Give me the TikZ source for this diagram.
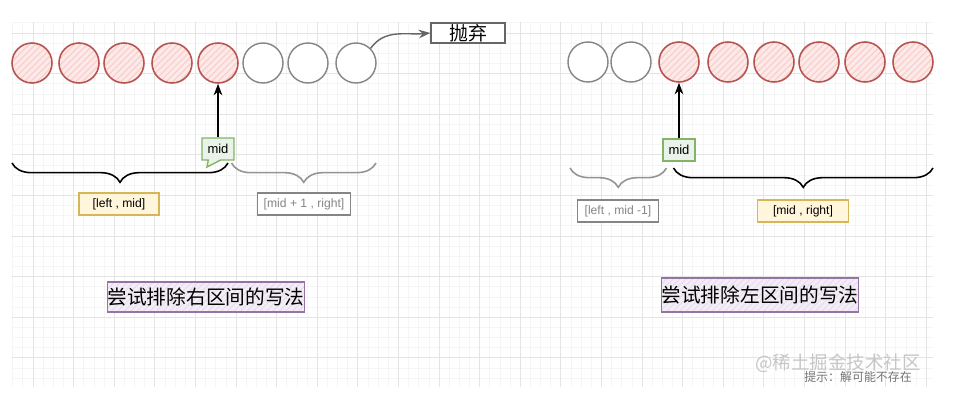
\documentclass[tikz,border=0pt]{standalone}
\usepackage{fontspec}
\setmainfont{Liberation Sans}
\newfontfamily\cjk{Noto Sans CJK SC}
\usetikzlibrary{arrows.meta, positioning, decorations.pathreplacing, shapes.callouts, patterns.meta}
\definecolor{dRed}{HTML}{B85450}
\definecolor{dRedFill}{HTML}{F8CECC}
\definecolor{dGray}{HTML}{666666}
\definecolor{dGreen}{HTML}{82B366}
\definecolor{dGreenFill}{HTML}{D5E8D4}
\definecolor{dYellow}{HTML}{D6B656}
\definecolor{dYellowFill}{HTML}{FFF2CC}
\definecolor{dPurple}{HTML}{9673A6}
\definecolor{dPurpleFill}{HTML}{E1D5E7}
\definecolor{gridMajor}{HTML}{E4E4E4}
\definecolor{gridMinor}{HTML}{F5F5F5}
\tikzset{
  redball/.style={circle, draw=dRed, line width=0.9pt, minimum size=0.8cm, inner sep=0,
    preaction={fill=dRedFill!45},
    pattern={Lines[angle=45, distance=2.6pt, line width=0.6pt]}, pattern color=dRedFill},
  grayball/.style={circle, draw=dGray!80, line width=0.8pt, minimum size=0.8cm, inner sep=0, fill=white},
  midtag/.style={draw=dGreen, line width=0.8pt, fill=dGreenFill!50, minimum width=0.64cm,
    minimum height=0.44cm, inner sep=0, font=\fontsize{7.4}{8}\selectfont},
  rangebox/.style={draw=dYellow, line width=0.8pt, fill=dYellowFill!70, minimum height=0.44cm,
    inner sep=0, font=\fontsize{6.9}{8}\selectfont},
  droppedbox/.style={draw=dGray!80, line width=0.8pt, fill=white, minimum height=0.44cm,
    inner sep=0, text=dGray!80, font=\fontsize{6.9}{8}\selectfont},
  titlebox/.style={draw=dPurple, line width=0.8pt, inner sep=0,
    preaction={fill=dPurpleFill!40},
    pattern={Lines[angle=45, distance=2.6pt, line width=0.6pt]}, pattern color=dPurpleFill!80,
    font=\cjk\fontsize{11.2}{13}\selectfont},
  bracket/.style={decorate, decoration={brace, amplitude=11pt}, line width=0.9pt},
}
\begin{document}
\begin{tikzpicture}[x=0.02cm, y=0.02cm]
  \useasboundingbox[fill=white] (0,0) rectangle (961,403);
  % grid
  \foreach \j in {-2,...,88} \draw[gridMinor, line width=0.4pt] ({33+10.15*\j},16) -- ({33+10.15*\j},381);
  \foreach \j in {-1,...,34} \draw[gridMinor, line width=0.4pt] (12,{370-10.15*\j}) -- (933,{370-10.15*\j});
  \foreach \k in {0,...,22} \draw[gridMajor, line width=0.5pt] ({33+40.6*\k},16) -- ({33+40.6*\k},381);
  \foreach \k in {0,...,8} \draw[gridMajor, line width=0.5pt] (12,{370-40.6*\k}) -- (933,{370-40.6*\k});

  % left: drop the right part
  \node[redball] (l1) at (32,340) {};
  \node[redball] (l2) at (79,340) {};
  \node[redball] (l3) at (124,340) {};
  \node[redball] (l4) at (172,340) {};
  \node[redball] (l5) at (218,340) {};
  \node[grayball] (l6) at (263,340) {};
  \node[grayball] (l7) at (308,340) {};
  \node[grayball] (l8) at (356,340) {};
  \node[draw=dGray, line width=0.8pt, fill=white, minimum width=1.48cm, minimum height=0.4cm,
    inner sep=0, font=\cjk\fontsize{10.8}{12}\selectfont] (drop) at (468,370) {抛弃};
  \draw[-{Stealth}, dGray, line width=0.8pt] (l8.45) to[out=55, in=185] (drop.west);
  \node[midtag, rectangle callout, callout absolute pointer={(207,236)}] (lmid) at (218,254) {mid};
  \draw[-{Stealth}, line width=0.8pt] (lmid.north) -- (l5.south);
  \coordinate (lbA) at (12,240);
  \coordinate (lbB) at (228,240);
  \coordinate (lbC) at (376,240);
  \draw[bracket] (lbB) -- (lbA);
  \draw[bracket, dGray!70] (lbC) -- ([xshift=2pt]lbB);
  \node[rangebox, minimum width=1.6cm] (lkeep) at (119,199) {[left , mid]};
  \node[droppedbox, minimum width=1.86cm] (lgone) at (304,199) {[mid + 1 , right]};
  \node[titlebox, minimum width=3.94cm, minimum height=0.6cm] (ltitle) at (206,106) {尝试排除右区间的写法};

  % right: drop the left part
  \node[grayball] (r1) at (588,341) {};
  \node[grayball] (r2) at (631,341) {};
  \node[redball] (r3) at (679,341) {};
  \node[redball] (r4) at (728,341) {};
  \node[redball] (r5) at (774,341) {};
  \node[redball] (r6) at (819,341) {};
  \node[redball] (r7) at (865,341) {};
  \node[redball] (r8) at (913,341) {};
  \node[midtag] (rmid) at (679,253) {mid};
  \draw[-{Stealth}, line width=0.8pt] (rmid.north) -- (r3.south);
  \coordinate (rbA) at (570,235);
  \coordinate (rbB) at (670,235);
  \coordinate (rbC) at (933,235);
  \draw[bracket, dGray!70] ([xshift=-2pt]rbB) -- (rbA);
  \draw[bracket] (rbC) -- ([xshift=2pt]rbB);
  \node[droppedbox, minimum width=1.62cm] (rgone) at (618,192) {[left , mid -1]};
  \node[rangebox, minimum width=1.82cm] (rkeep) at (803,192) {[mid , right]};
  \node[titlebox, minimum width=3.86cm, minimum height=0.68cm] (rtitle) at (760,108) {尝试排除左区间的写法};

  % footer
  \node[text=gray!45, font=\cjk\fontsize{10.5}{12}\selectfont] (mark) at (838,40) {@稀土掘金技术社区};
  \node[text=dGray!90, font=\cjk\fontsize{6.8}{8}\selectfont, anchor=east] (hint) at (918,26) {提示：解可能不存在};
\end{tikzpicture}
\end{document}
